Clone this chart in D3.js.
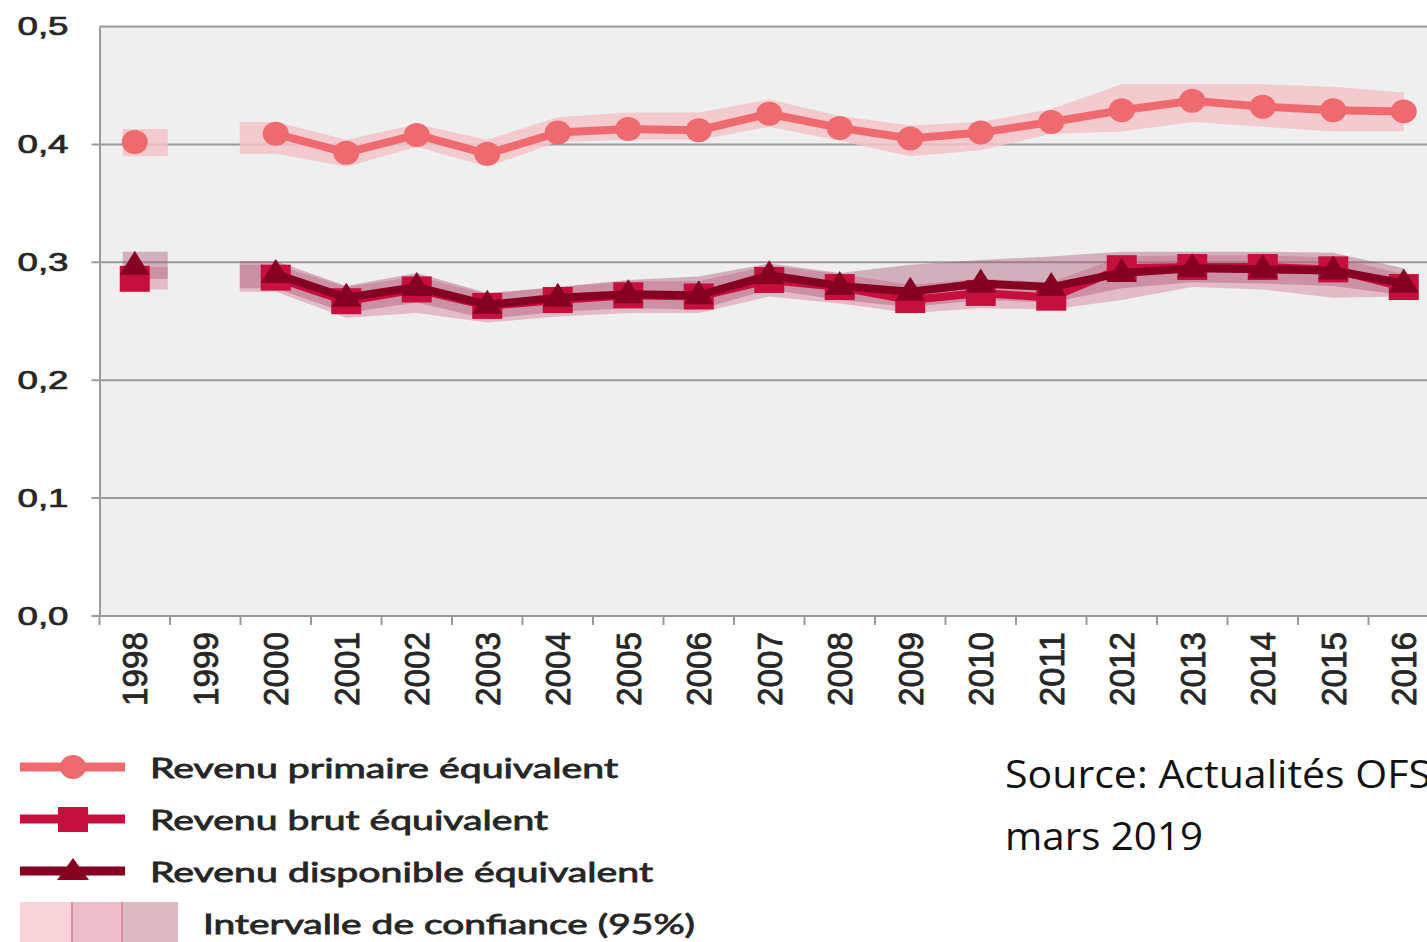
<!DOCTYPE html>
<html><head><meta charset="utf-8">
<script src="https://cdn.jsdelivr.net/npm/d3@7"></script>
<style>body{margin:0;background:#fff;overflow:hidden}svg{display:block}</style>
</head><body>
<svg id="c" width="1427" height="942"></svg>
<script>
// ---------- data ----------
const years = ["1998","1999","2000","2001","2002","2003","2004","2005","2006","2007","2008","2009","2010","2011","2012","2013","2014","2015","2016"];
const primaire   = [0.402,null,0.409,0.393,0.408,0.392,0.410,0.413,0.412,0.426,0.414,0.405,0.410,0.419,0.429,0.437,0.432,0.429,0.428];
const primaireLo = [0.390,null,0.392,0.381,0.398,0.381,0.402,0.404,0.404,0.415,0.403,0.390,0.395,0.409,0.411,0.419,0.415,0.411,0.411];
const primaireHi = [0.413,null,0.419,0.404,0.417,0.404,0.423,0.427,0.427,0.438,0.424,0.416,0.419,0.430,0.451,0.451,0.451,0.449,0.444];
const brut       = [0.286,null,0.287,0.267,0.277,0.263,0.268,0.272,0.271,0.285,0.279,0.268,0.274,0.270,0.295,0.296,0.296,0.294,0.279];
const brutLo     = [0.277,null,0.275,0.253,0.257,0.249,0.254,0.257,0.257,0.271,0.265,0.257,0.261,0.260,0.268,0.279,0.277,0.270,0.271];
const brutHi     = [0.296,null,0.298,0.279,0.288,0.273,0.279,0.284,0.284,0.297,0.290,0.281,0.286,0.283,0.305,0.306,0.306,0.304,0.290];
const disponible = [0.297,null,0.290,0.270,0.279,0.264,0.270,0.273,0.272,0.289,0.280,0.275,0.282,0.279,0.291,0.295,0.294,0.293,0.282];
const dispoLo    = [0.286,null,0.278,0.257,0.266,0.252,0.258,0.261,0.260,0.277,0.268,0.262,0.268,0.266,0.278,0.283,0.282,0.280,0.272];
const dispoHi    = [0.309,null,0.301,0.280,0.291,0.274,0.279,0.285,0.288,0.299,0.291,0.298,0.302,0.305,0.309,0.309,0.309,0.308,0.295];
const yTicks = [0, 0.1, 0.2, 0.3, 0.4, 0.5];
const legendLabels = ["Revenu primaire équivalent","Revenu brut équivalent","Revenu disponible équivalent","Intervalle de confiance (95%)"];
const sourceLines = ["Source: Actualités OFS","mars 2019"];

(function () {
// ---------- setup ----------
const svg = d3.select("#c");
const pLeft = 99.5, pTop = 26.5, pBottom = 616, step = 70.5;
const x = d3.scaleBand().domain(years).range([pLeft, pLeft + step * years.length]).paddingInner(0).paddingOuter(0);
const y = d3.scaleLinear().domain([0, 0.5]).range([pBottom, pTop]);
const cx = d => x(d) + x.bandwidth() / 2;
const rightEdge = pLeft + step * years.length;

const C = {
  prim: "#ef6a6e", primBand: "#f3c3c8",
  brut: "#c60f3c", brutBand: "#d47d96",
  dispo: "#860022", dispoBand: "#a85070",
  grid: "#9a9a9a", text: "#262626"
};

// plot background
svg.append("rect").attr("x", pLeft).attr("y", pTop)
  .attr("width", rightEdge - pLeft).attr("height", pBottom - pTop).attr("fill", "#efefef");

// gridlines
svg.append("g").selectAll("line").data(yTicks.filter(t => t > 0))
  .join("line")
  .attr("x1", d => d === 0.5 ? pLeft : pLeft - 8).attr("x2", rightEdge)
  .attr("y1", d => y(d)).attr("y2", d => y(d))
  .attr("stroke", C.grid).attr("stroke-width", 2);

// y axis
const yAxis = svg.append("g").attr("transform", `translate(${pLeft},0)`)
  .call(d3.axisLeft(y).tickValues(yTicks).tickSize(0).tickPadding(31)
    .tickFormat(d => d3.format(".1f")(d).replace(".", ",")));
yAxis.select(".domain").attr("stroke", C.grid).attr("stroke-width", 2);
yAxis.selectAll("text")
  .attr("font-family", "Liberation Sans, Arial, sans-serif").attr("font-size", 25)
  .attr("fill", C.text).attr("stroke", C.text).attr("stroke-width", 0.7)
  .attr("textLength", 51).attr("lengthAdjust", "spacingAndGlyphs");

// x axis
const xAxis = svg.append("g").attr("transform", `translate(0,${pBottom})`)
  .call(d3.axisBottom(x).tickSize(0));
xAxis.select(".domain").remove();
svg.append("line").attr("x1", pLeft - 8).attr("x2", rightEdge).attr("y1", pBottom).attr("y2", pBottom)
  .attr("stroke", C.grid).attr("stroke-width", 2);
svg.append("g").selectAll("line").data(years).join("line")
  .attr("x1", d => x(d)).attr("x2", d => x(d))
  .attr("y1", pBottom).attr("y2", pBottom + 9)
  .attr("stroke", C.grid).attr("stroke-width", 2);
xAxis.selectAll("text")
  .attr("transform", "rotate(-90)").attr("x", -16).attr("y", 0).attr("dy", "0.36em")
  .style("text-anchor", "end")
  .attr("font-family", "Liberation Sans, Arial, sans-serif").attr("font-size", 35)
  .attr("fill", C.text).attr("stroke", C.text).attr("stroke-width", 0.8)
  .attr("textLength", 74).attr("lengthAdjust", "spacingAndGlyphs");

// ---------- bands ----------
function bandSegments(lo, hi) {
  const segs = []; let cur = [];
  years.forEach((yr, i) => {
    if (lo[i] == null) { if (cur.length) segs.push(cur); cur = []; }
    else cur.push({ x: cx(yr), lo: lo[i], hi: hi[i] });
  });
  if (cur.length) segs.push(cur);
  return segs.map(s => {
    const f = s[0];
    if (s.length === 1) return [{ x: f.x - 12, lo: f.lo, hi: f.hi }, { x: f.x + 33, lo: f.lo, hi: f.hi }];
    return [{ x: f.x - 36, lo: f.lo, hi: f.hi }].concat(s);
  });
}
const area = d3.area().x(d => d.x).y0(d => y(d.lo)).y1(d => y(d.hi));
function drawBand(lo, hi, fill, op) {
  svg.append("g").selectAll("path").data(bandSegments(lo, hi)).join("path")
    .attr("d", area).attr("fill", fill).attr("fill-opacity", op);
}
drawBand(primaireLo, primaireHi, C.primBand, 0.85);
drawBand(brutLo, brutHi, C.brutBand, 0.45);
drawBand(dispoLo, dispoHi, C.dispoBand, 0.4);

// ---------- lines ----------
const line = d3.line().defined(d => d.v != null).x(d => cx(d.k)).y(d => y(d.v));
function series(vals) { return years.map((k, i) => ({ k, v: vals[i] })); }
function drawLine(vals, color, w) {
  svg.append("path").datum(series(vals)).attr("d", line)
    .attr("fill", "none").attr("stroke", color).attr("stroke-width", w).attr("stroke-linejoin", "round");
}
const triPath = "M0,-15L15,9L-15,9Z";

drawLine(primaire, C.prim, 8);
svg.append("g").selectAll("ellipse").data(series(primaire).filter(d => d.v != null)).join("ellipse")
  .attr("cx", d => cx(d.k)).attr("cy", d => y(d.v)).attr("rx", 13).attr("ry", 12).attr("fill", C.prim);

drawLine(brut, C.brut, 8);
svg.append("g").selectAll("rect").data(series(brut).filter(d => d.v != null)).join("rect")
  .attr("x", d => cx(d.k) - 15).attr("y", d => y(d.v) - 13).attr("width", 30).attr("height", 26).attr("fill", C.brut);

drawLine(disponible, C.dispo, 8);
svg.append("g").selectAll("path").data(series(disponible).filter(d => d.v != null)).join("path")
  .attr("transform", d => `translate(${cx(d.k)},${y(d.v)})`).attr("d", triPath).attr("fill", C.dispo);

// ---------- legend ----------
const lg = svg.append("g");
const rowsY = [767, 819, 871];
const rowColors = [C.prim, C.brut, C.dispo];
rowsY.forEach((ry, i) => {
  lg.append("line").attr("x1", 20).attr("x2", 125).attr("y1", ry).attr("y2", ry)
    .attr("stroke", rowColors[i]).attr("stroke-width", 9);
});
lg.append("ellipse").attr("cx", 73).attr("cy", rowsY[0]).attr("rx", 13).attr("ry", 12).attr("fill", C.prim);
lg.append("rect").attr("x", 58).attr("y", rowsY[1] - 12).attr("width", 30).attr("height", 25).attr("fill", C.brut);
lg.append("path").attr("transform", `translate(73,${rowsY[2]})`).attr("d", "M0,-13L16,9L-16,9Z").attr("fill", C.dispo);
const sw = [["#f8d3d9", 20, 52], ["#ecbccb", 72, 50], ["#ddbac3", 122, 56]];
sw.forEach(s => lg.append("rect").attr("x", s[1]).attr("y", 902).attr("width", s[2]).attr("height", 40).attr("fill", s[0]));
[72, 122].forEach(xx => lg.append("line").attr("x1", xx).attr("x2", xx).attr("y1", 902).attr("y2", 942)
  .attr("stroke", "#d98fa6").attr("stroke-width", 2));
const legTexts = [
  { t: legendLabels[0], x: 150, y: 778, w: 468 },
  { t: legendLabels[1], x: 150, y: 830, w: 398 },
  { t: legendLabels[2], x: 150, y: 882, w: 503 },
  { t: legendLabels[3], x: 203, y: 934, w: 492 }
];
lg.selectAll("text").data(legTexts).join("text")
  .attr("x", d => d.x).attr("y", d => d.y).text(d => d.t)
  .attr("font-family", "Lato, 'Noto Sans', sans-serif").attr("font-size", 27)
  .attr("fill", C.text).attr("stroke", C.text).attr("stroke-width", 0.8)
  .attr("textLength", d => d.w).attr("lengthAdjust", "spacingAndGlyphs");

// ---------- source ----------
svg.append("g").selectAll("text").data(sourceLines).join("text")
  .attr("x", 1005).attr("y", (d, i) => 788 + i * 62).text(d => d)
  .attr("font-family", "'Open Sans', sans-serif").attr("font-size", 39).attr("fill", "#111")
  .attr("textLength", (d, i) => i === 0 ? 426 : 198).attr("lengthAdjust", "spacingAndGlyphs");
})();
</script>
</body></html>
